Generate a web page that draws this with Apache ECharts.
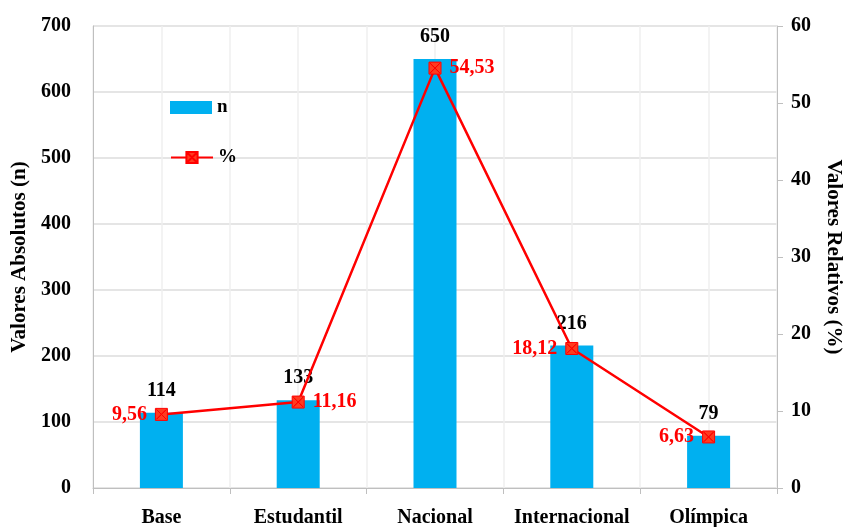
<!DOCTYPE html>
<html><head><meta charset="utf-8">
<script src="https://cdn.jsdelivr.net/npm/echarts@6/dist/echarts.min.js"></script>
<style>html,body{margin:0;padding:0;background:#fff}#c{width:851px;height:527px}</style>
</head><body><div id="c"></div>
<script>
const categories = ['Base','Estudantil','Nacional','Internacional','Olímpica'];
const nValues = [114,133,650,216,79];
const pctValues = [9.56,11.16,54.53,18.12,6.63];
const pctLabelPos = ['left','right','right','left','left'];
const F = '"Liberation Serif","DejaVu Serif",serif';
const FS = 20;
const chart = echarts.init(document.getElementById('c'));
const fmt = v => v.toFixed(2).replace('.', ',');
const txt = {fontFamily:F,fontWeight:'bold',fontSize:FS,color:'#000'};
chart.setOption({
  animation:false,
  textStyle:{fontFamily:F},
  grid:{left:93,right:74,top:26,bottom:39,containLabel:false,outerBoundsMode:'none'},
  legend:[
    {data:[{name:'n'}],left:165,top:93,orient:'vertical',itemWidth:42,itemHeight:13,
     textStyle:Object.assign({},txt,{fontSize:19}),icon:'rect',itemGap:4},
    {data:[{name:'%'}],left:165,top:143,orient:'vertical',itemWidth:42,itemHeight:14,
     textStyle:Object.assign({},txt,{fontSize:19}),itemGap:4}
  ],
  xAxis:[{type:'category',data:categories,
    axisLine:{lineStyle:{color:'#bfbfbf'}},
    axisTick:{show:true,interval:0,length:6,lineStyle:{color:'#bfbfbf'}},
    axisLabel:Object.assign({},txt,{margin:20,interval:0,hideOverlap:false}),
    splitLine:{show:false}, z:3},
    {type:'value',min:0,max:5,interval:0.5,position:'top',
     axisLine:{show:false},axisTick:{show:false},axisLabel:{show:false},
     splitLine:{show:true,lineStyle:{color:'#efefef',width:1.5}}}],
  yAxis:[
    {type:'value',min:0,max:700,interval:100,name:'Valores Absolutos (n)',nameLocation:'middle',nameGap:62,
     nameTextStyle:Object.assign({},txt,{fontSize:21}),
     axisLine:{show:true,lineStyle:{color:'#bfbfbf'}},axisTick:{show:false},
     axisLabel:Object.assign({},txt,{margin:22}),
     splitLine:{lineStyle:{color:'#dcdcdc',width:1.5}}},
    {type:'value',min:0,max:60,interval:10,name:'Valores Relativos (%)',nameLocation:'middle',nameGap:46,
     nameRotate:-90,
     nameTextStyle:Object.assign({},txt,{fontSize:21}),
     axisLine:{show:true,lineStyle:{color:'#bfbfbf'}},axisTick:{show:true,length:6,lineStyle:{color:'#bfbfbf'}},
     axisLabel:Object.assign({},txt,{margin:14}),
     splitLine:{show:false}}
  ],
  series:[
    {name:'n',type:'bar',data:nValues,barWidth:43,itemStyle:{color:'#00B0F0'},
     label:Object.assign({show:true,position:'top',distance:12},txt)},
    {name:'%',type:'line',yAxisIndex:1,
     data:pctValues.map((v,i)=>({value:v,label:{position:pctLabelPos[i]}})),
     symbol:'path://M0,0L10,0L10,10L0,10Z M1,1L9,9L9,9Z M9,1L1,9Z',symbolSize:12,
     lineStyle:{color:'#FF0000',width:2.5},
     itemStyle:{color:'#FF3B1F',borderColor:'#FF0000',borderWidth:1},
     label:Object.assign({},txt,{show:true,color:'#FF0000',distance:8,formatter:p=>fmt(p.value)}),
     z:5}
  ]
});
</script></body></html>
